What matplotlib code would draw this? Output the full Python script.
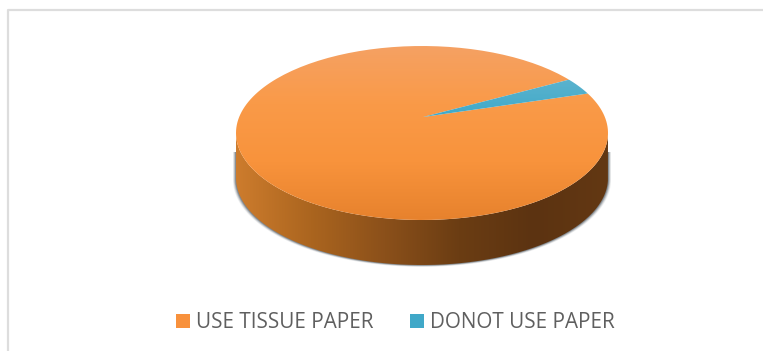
import numpy as np
import matplotlib
matplotlib.use("Agg")
import matplotlib.pyplot as plt
from matplotlib.colors import LinearSegmentedColormap
from matplotlib.patches import PathPatch, Polygon, Rectangle
from matplotlib.path import Path

# chart data
labels = ["USE TISSUE PAPER", "DONOT USE PAPER"]
values = [97, 3]

W, H = 763, 351
CX, CY, RX, RY = 422, 133, 186, 87
DEPTH = 45
APEX_Y = 117
BLUE_START = 27.0


def arc(t0, t1, y_off=0, n=200):
    t = np.radians(np.linspace(t0, t1, n))
    return np.column_stack([CX + RX * np.cos(t), CY + y_off - RY * np.sin(t)])


def gradient(ax, verts, colors, vertical=True):
    cmap = LinearSegmentedColormap.from_list("g", colors)
    path = Path(np.vstack([verts, verts[:1]]))
    x0, y0 = verts.min(axis=0)
    x1, y1 = verts.max(axis=0)
    grad = np.linspace(0, 1, 256)
    grad = grad[:, None] if vertical else grad[None, :]
    im = ax.imshow(grad, cmap=cmap, extent=(x0, x1, y1, y0), aspect="auto",
                   interpolation="bilinear", zorder=2)
    im.set_clip_path(PathPatch(path, transform=ax.transData))


fig = plt.figure(figsize=(W / 100, H / 100), dpi=100)
ax = fig.add_axes([0, 0, 1, 1])
ax.set_xlim(0, W)
ax.set_ylim(H, 0)
ax.axis("off")

# frame, open on the right and at the bottom
ax.plot([8, 8, W], [H, 9.5, 9.5], color="#DDDDDD", lw=1.6, zorder=1)

# soft shadow around the side, only below the rim
side = np.vstack([arc(180, 360), arc(360, 180, DEPTH)])
shadow_clip = Rectangle((0, 152), W, H - 152, transform=ax.transData)
for grow, alpha in [(3.0, 0.10), (2.2, 0.18), (1.4, 0.28), (0.7, 0.35)]:
    shadow = side.copy()
    shadow[:, 0] = CX + (shadow[:, 0] - CX) * (RX + grow) / RX
    shadow[:, 1] += grow * 0.6
    p = ax.add_patch(Polygon(shadow, closed=True, facecolor="#3C4650", edgecolor="none",
                             alpha=alpha, zorder=1.5))
    p.set_clip_path(shadow_clip)

# side of the disc
gradient(ax, side, ["#CD7C2D", "#AB651F", "#8B501A", "#6B3D13", "#5C3311", "#633813"],
         vertical=False)

# top of the disc, split from the values
sweep = 360 * values[1] / sum(values)
orange = np.vstack([[[CX + 1, APEX_Y]], arc(BLUE_START + sweep, BLUE_START + 360)])
blue = np.vstack([[[CX + 1, APEX_Y]], arc(BLUE_START, BLUE_START + sweep, n=30)])
gradient(ax, orange, ["#F5A163", "#FA9A48", "#F8933C", "#E7822D"])
gradient(ax, blue, ["#5BB3CE", "#3FA9C9"])

ax.set_xlim(0, W)
ax.set_ylim(H, 0)

# legend
for x, label, c in zip([176, 410], labels, ["#F8913C", "#40A8C8"]):
    ax.add_patch(Rectangle((x, 314), 14, 14, facecolor=c, edgecolor="none", zorder=3))
    ax.text(x + 20, 322, label, fontsize=14.9, family="Open Sans", color="#5F5F5F",
            va="center", ha="left")

fig.savefig("out.png", dpi=100)
plt.close(fig)
